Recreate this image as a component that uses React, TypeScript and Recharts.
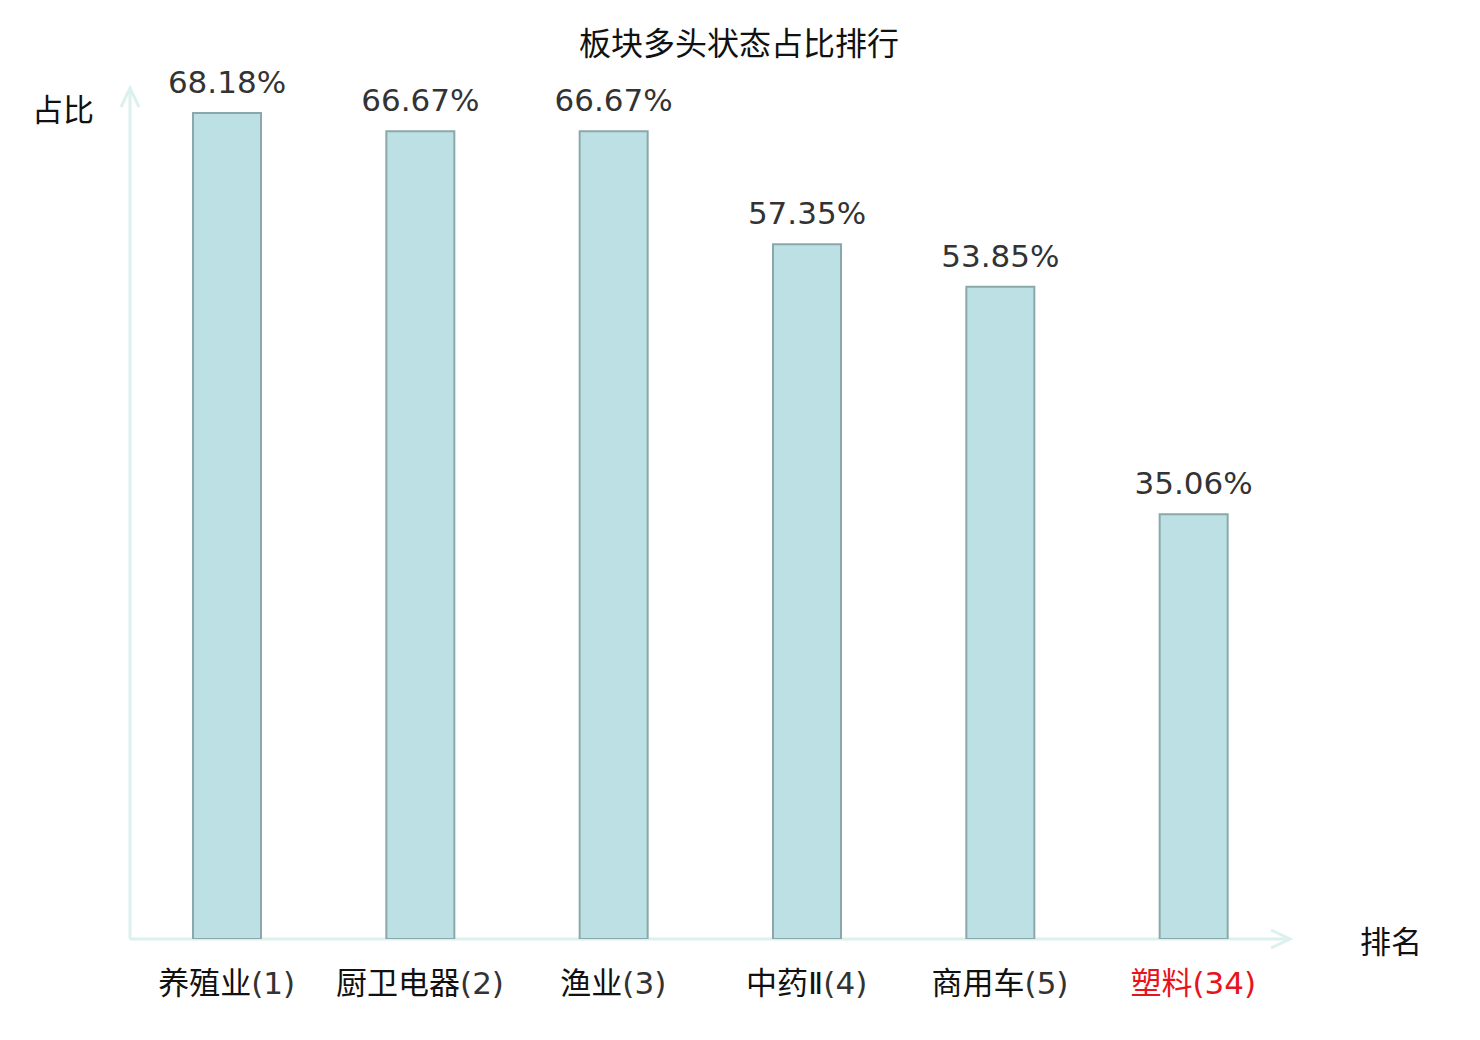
import React from 'react';
import * as RC from 'recharts';
import { BarChart, Bar, XAxis, YAxis, LabelList } from 'recharts';

const categories = ['养殖业', '厨卫电器', '渔业', '中药Ⅱ', '商用车', '塑料'];
const ranks = [1, 2, 3, 4, 5, 34];
const ratios = [68.18, 66.67, 66.67, 57.35, 53.85, 35.06];
const highlightRank = 34;

const TITLE = '板块多头状态占比排行';
const Y_LABEL = '占比';
const X_LABEL = '排名';

const data = categories.map((c, i) => ({
  name: `${c}(${ranks[i]})`,
  cat: c,
  rank: ranks[i],
  value: ratios[i],
}));

const W = 1480;
const H = 1040;
const MARGIN = { top: 91, right: 190, bottom: 41, left: 130 };
const XAXIS_H = 60;
const AXIS_COLOR = '#dcf1ee';
const CJK = '"Noto Sans CJK SC", "DejaVu Sans", sans-serif';
const LATIN = '"DejaVu Sans", "Noto Sans CJK SC", sans-serif';

const useArea = (RC as any).usePlotArea as undefined | (() => any);

function Overlay() {
  const area = useArea ? useArea() : undefined;
  const x = area?.x ?? MARGIN.left;
  const y = area?.y ?? MARGIN.top;
  const w = area?.width ?? W - MARGIN.left - MARGIN.right;
  const h = area?.height ?? H - MARGIN.top - MARGIN.bottom - XAXIS_H;
  const by = y + h;
  const tipY = y - 3;
  const tipX = x + w;
  return (
    <g>
      <line x1={x} y1={by} x2={x} y2={tipY} stroke={AXIS_COLOR} strokeWidth={3} />
      <polyline
        points={`${x - 9},${tipY + 19} ${x},${tipY} ${x + 9},${tipY + 19}`}
        fill="none"
        stroke={AXIS_COLOR}
        strokeWidth={3}
      />
      <line x1={x} y1={by} x2={tipX} y2={by} stroke={AXIS_COLOR} strokeWidth={3} />
      <polyline
        points={`${tipX - 19},${by - 9} ${tipX},${by} ${tipX - 19},${by + 9}`}
        fill="none"
        stroke={AXIS_COLOR}
        strokeWidth={3}
      />
      <text x={W / 2 - 1} y={55} textAnchor="middle" fontFamily={CJK} fontSize={32} fill="#111">
        {TITLE}
      </text>
      <text x={x - 67} y={y + 30} textAnchor="middle" fontFamily={CJK} fontSize={31} fill="#111">
        {Y_LABEL}
      </text>
      <text x={tipX + 101} y={by + 14} textAnchor="middle" fontFamily={CJK} fontSize={31} fill="#111">
        {X_LABEL}
      </text>
    </g>
  );
}

function CategoryTick(props: any) {
  const { x, y, payload, index } = props;
  const d = data[index] ?? data.find((e) => e.name === payload?.value);
  if (!d) return null;
  const red = d.rank === highlightRank;
  const color = red ? '#e8141c' : '#111';
  const numColor = red ? '#e8141c' : '#333';
  return (
    <text x={x} y={y} dy={47} textAnchor="middle" fontSize={31} fontFamily={LATIN}>
      <tspan fill={color}>{d.cat}</tspan>
      <tspan fill={numColor}>{`(${d.rank})`}</tspan>
    </text>
  );
}

export default function App() {
  return (
    <div style={{ position: 'absolute', left: 0, top: 0, width: W, height: H, background: '#fff' }}>
      <BarChart width={W} height={H} data={data} margin={MARGIN} barCategoryGap={0}>
        <XAxis
          dataKey="name"
          axisLine={false}
          tickLine={false}
          height={XAXIS_H}
          interval={0}
          tick={<CategoryTick />}
        />
        <YAxis hide domain={[0, 70]} type="number" allowDataOverflow />
        <Bar
          dataKey="value"
          barSize={68}
          fill="#bce0e3"
          stroke="#8aa8aa"
          strokeWidth={2}
          isAnimationActive={false}
        >
          <LabelList
            dataKey="value"
            position="top"
            offset={20}
            formatter={(v: any) => `${Number(v).toFixed(2)}%`}
            fill="#333"
            fontSize={31}
            fontFamily={LATIN}
          />
        </Bar>
        <Overlay />
      </BarChart>
    </div>
  );
}
